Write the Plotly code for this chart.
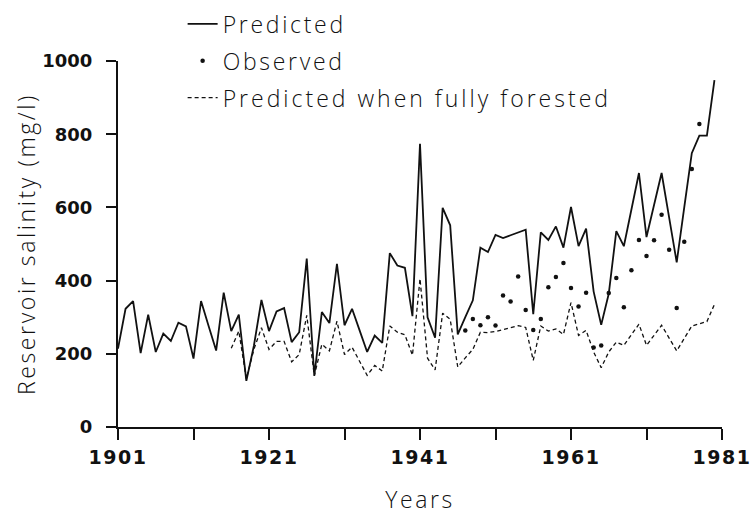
import plotly.graph_objects as go

# Annual series
years_pred = list(range(1901, 1981))
predicted = [
    214, 323, 344, 202, 307, 205, 255, 235, 285, 275,
    187, 344, 276, 209, 367, 262, 307, 126, 222, 347,
    262, 316, 325, 232, 259, 460, 140, 314, 284, 446,
    278, 323, 264, 205, 250, 230, 475, 441, 435, 303,
    774, 300, 244, 599, 551, 253, 300, 346, 490, 478,
    525, 516, 524, 531, 539, 308, 532, 511, 548, 490,
    601, 494, 542, 370, 279, 364, 535, 494, 594, 694,
    519, 606, 694, 572, 450, 600, 748, 796, 796, 948,
]

years_forest = list(range(1916, 1981))
forested = [
    215, 262, 132, 212, 271, 212, 234, 234, 178, 198,
    305, 140, 226, 208, 289, 198, 218, 180, 141, 168,
    153, 276, 259, 252, 196, 405, 188, 156, 311, 294,
    164, 189, 212, 259, 258, 261, 266, 272, 277, 272,
    182, 276, 262, 268, 253, 340, 250, 264, 205, 162,
    205, 232, 223, 252, 281, 223, 250, 278, 243, 208,
    242, 276, 282, 288, 335,
]

years_obs = list(range(1947, 1979))
observed = [
    264, 295, 278, 300, 277, 359, 343, 411, 320, 265,
    295, 382, 410, 448, 380, 329, 367, 217, 223, 366,
    407, 327, 428, 511, 467, 510, 580, 484, 325, 506,
    705, 828,
]

x_tickvals = list(range(1901, 1982, 10))
x_ticklabels = ["1901", "", "1921", "", "1941", "", "1961", "", "1981"]
y_tickvals = [0, 200, 400, 600, 800, 1000]

INK = "#111111"
TEXT_FONT = dict(family="Open Sans", size=23, color="#111111", weight=300)
TICK_FONT = dict(family="DejaVu Sans", color=INK, weight="bold")


def tracked(text, spacing):
    """Wrap text in a span with extra letter spacing."""
    if not text:
        return text
    return f"<span style='letter-spacing:{spacing}px'>{text}</span>"


fig = go.Figure()

fig.add_trace(go.Scatter(
    x=years_pred, y=predicted, mode="lines",
    name=tracked("Predicted", 2.7),
    line=dict(color=INK, width=1.8), legendgroup="a",
))
fig.add_trace(go.Scatter(
    x=years_obs, y=observed, mode="markers",
    name=tracked("Observed", 2.7),
    marker=dict(color=INK, size=4.5), legendgroup="b",
))
fig.add_trace(go.Scatter(
    x=years_forest, y=forested, mode="lines",
    name=tracked("Predicted when fully forested", 3.0),
    line=dict(color=INK, width=1.3, dash="4px,3px"), legendgroup="c",
))

fig.update_layout(
    width=755, height=515,
    margin=dict(l=118, r=33, t=61, b=88, autoexpand=False),
    paper_bgcolor="white", plot_bgcolor="white",
    showlegend=True,
    legend=dict(
        x=0.107, y=1.16, xanchor="left", yanchor="top",
        font=TEXT_FONT, bgcolor="rgba(0,0,0,0)",
        tracegroupgap=4, traceorder="grouped",
    ),
)

fig.update_xaxes(
    range=[1901, 1981], showgrid=False, zeroline=False,
    showline=True, linecolor=INK, linewidth=2,
    ticks="outside", ticklen=11, tickwidth=2, tickcolor=INK,
    tickvals=x_tickvals, ticktext=[tracked(t, 1.5) for t in x_ticklabels],
    tickfont=dict(size=19, **TICK_FONT),
    ticklabelstandoff=1,
    automargin=False,
    title=dict(text=tracked("Years", 2.6), font=TEXT_FONT, standoff=25),
)
fig.update_yaxes(
    range=[0, 1000], showgrid=False, zeroline=False,
    showline=True, linecolor=INK, linewidth=2,
    ticks="outside", ticklen=10, tickwidth=2, tickcolor=INK,
    tickvals=y_tickvals,
    tickfont=dict(size=18, **TICK_FONT),
    ticklabelstandoff=10,
    automargin=False,
    title=dict(text=tracked("Reservoir salinity (mg/l)", 2.6),
               font=TEXT_FONT, standoff=0),
)

fig.write_html("out.html")
